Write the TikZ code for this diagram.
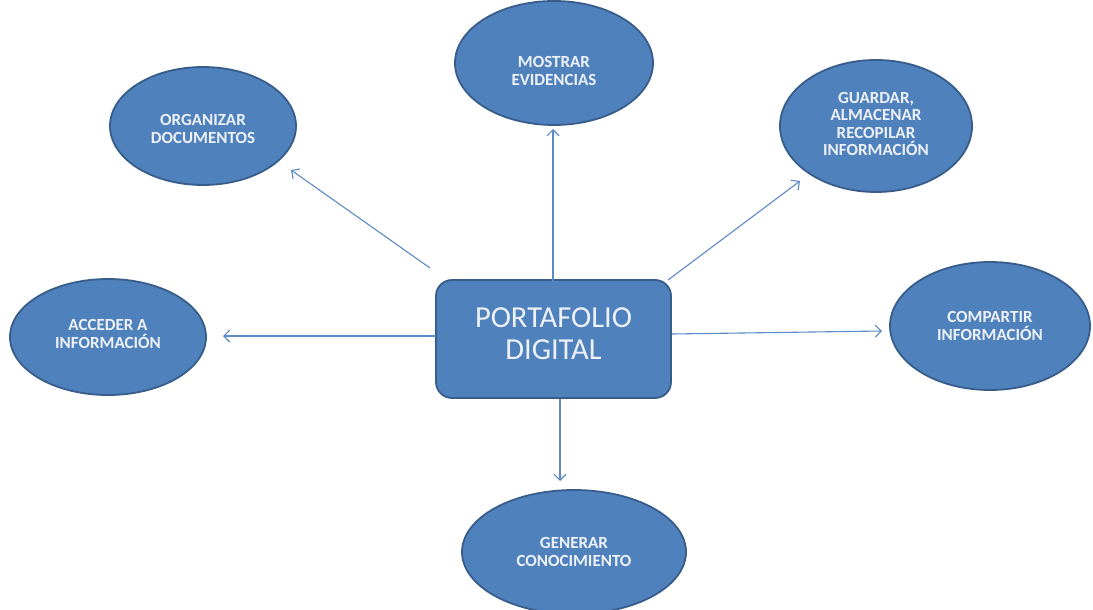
\documentclass[tikz,border=0pt]{standalone}
\usepackage{fontspec}
\setmainfont{Carlito}
\usetikzlibrary{shapes.geometric,arrows.meta}
\definecolor{fillblue}{HTML}{4F81BD}
\definecolor{edgeblue}{HTML}{385D8A}
\definecolor{arrblue}{HTML}{5B8AC6}
\definecolor{txtlight}{HTML}{EEF2F8}
\tikzset{
  ell/.style={ellipse, draw=edgeblue, line width=1.8pt, fill=fillblue, inner sep=0pt},
  etxt/.style={text=txtlight, font=\fontsize{17}{17.5}\selectfont\bfseries, align=center, inner sep=0pt},
  bigbox/.style={rectangle, rounded corners=16pt, draw=edgeblue, line width=1.8pt, fill=fillblue,
     minimum width=235pt, minimum height=118pt},
  btxt/.style={text=txtlight, align=center, inner sep=0pt, font=\fontsize{30.5}{32}\selectfont},
  arr/.style={draw=arrblue, line width=1.1pt, -{Straight Barb[length=6pt,width=12pt,line width=1.1pt]}}
}
\begin{document}
\begin{tikzpicture}[x=1pt,y=-1pt]
\useasboundingbox (0,0) rectangle (1093,610);
\fill[white] (0,0) rectangle (1093,610);
% ellipses
\node[ell, minimum width=198pt, minimum height=124pt] (most) at (554,63) {};
\node[etxt] (mostt) at (554,71) {MOSTRAR\\EVIDENCIAS};
\node[ell, minimum width=186pt, minimum height=118pt] (org) at (203,126) {};
\node[etxt] (orgt) at (203,129) {ORGANIZAR\\DOCUMENTOS};
\node[ell, minimum width=192pt, minimum height=132pt] (guar) at (876,126) {};
\node[etxt] (guart) at (876,124) {GUARDAR,\\ALMACENAR\\RECOPILAR\\INFORMACIÓN};
\node[ell, minimum width=196pt, minimum height=116pt] (acc) at (108,337) {};
\node[etxt] (acct) at (108,334) {ACCEDER A\\INFORMACIÓN};
\node[ell, minimum width=200pt, minimum height=128pt] (comp) at (990,326) {};
\node[etxt] (compt) at (990,326) {COMPARTIR\\INFORMACIÓN};
\node[ell, minimum width=224pt, minimum height=124pt] (gen) at (574,552) {};
\node[etxt] (gent) at (574,552) {GENERAR\\CONOCIMIENTO};
% central box
\node[bigbox] (pd) at (553.5,339) {};
\node[btxt] (pdt) at (553.5,334) {PORTAFOLIO\\DIGITAL};
% arrow end points
\coordinate (upS) at (553,281);
\coordinate (upE) at (553,129);
\coordinate (ulS) at (430,268);
\coordinate (ulE) at (291,170);
\coordinate (urS) at (668,280);
\coordinate (urE) at (800,181);
\coordinate (lfS) at (436,336);
\coordinate (lfE) at (223,336);
\coordinate (rtS) at (672,334);
\coordinate (rtE) at (882,331);
\coordinate (dnS) at (560,399);
\coordinate (dnE) at (560,481);
\draw[arr] (upS) -- (upE);
\draw[arr] (ulS) -- (ulE);
\draw[arr] (urS) -- (urE);
\draw[arr] (lfS) -- (lfE);
\draw[arr] (rtS) -- (rtE);
\draw[arr] (dnS) -- (dnE);
\end{tikzpicture}
\end{document}
